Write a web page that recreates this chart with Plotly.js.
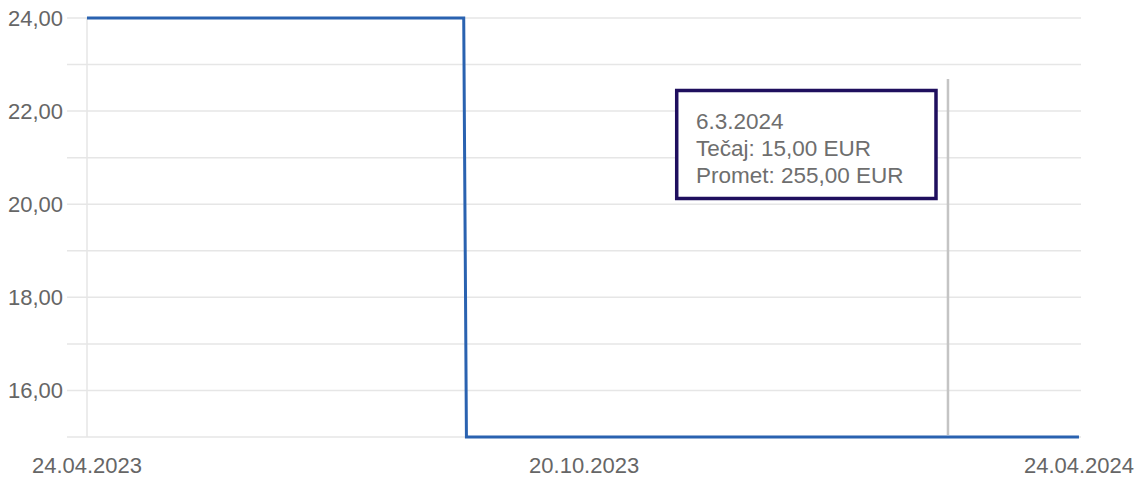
<!DOCTYPE html>
<html>
<head>
<meta charset="utf-8">
<script src="https://cdn.plot.ly/plotly-3.0.1.min.js"></script>
<style>html,body{margin:0;padding:0;background:#fff;}#chart{width:1142px;height:481px;}</style>
</head>
<body>
<div id="chart"></div>
<script>
// Data
var dates = ['2023-04-24', '2023-09-10', '2023-09-11', '2024-03-06', '2024-04-24'];
var prices = [24, 24, 15, 15, 15];
var yTickVals = [16, 18, 20, 22, 24];
var yTickText = ['16,00', '18,00', '20,00', '22,00', '24,00'];
var xTickVals = ['2023-04-24', '2023-10-24 10:00', '2024-04-24'];
var xTickText = ['24.04.2023', '20.10.2023', '24.04.2024'];
var hoverDate = '2024-03-06 16:00';
var tooltipLines = ['6.3.2024', 'Tečaj: 15,00 EUR', 'Promet: 255,00 EUR'];

var trace = {
  x: dates, y: prices, type: 'scatter', mode: 'lines',
  line: {color: '#2a62b0', width: 3, shape: 'linear'},
  hoverinfo: 'skip'
};

var layout = {
  width: 1142, height: 481,
  margin: {l: 67, r: 61, t: 15, b: 42},
  paper_bgcolor: '#fff', plot_bgcolor: '#fff',
  showlegend: false,
  font: {family: 'Liberation Sans, Arial, sans-serif', color: '#666', size: 22},
  xaxis: {
    type: 'date',
    range: ['2023-04-16 15:00', '2024-04-24 18:00'],
    tickvals: xTickVals, ticktext: xTickText,
    showgrid: false, zeroline: false, showline: false, ticks: '',
    tickfont: {size: 22, color: '#666'},
    ticklabelstandoff: 11
  },
  yaxis: {
    range: [14.957, 24.0644],
    tickvals: yTickVals, ticktext: yTickText,
    showgrid: false, zeroline: false, showline: false, ticks: '',
    tickfont: {size: 22, color: '#666'},
    ticklabelstandoff: 3
  },
  shapes: [],
  annotations: []
};

// horizontal gridlines every 1 unit
for (var v = 15; v <= 24; v++) {
  layout.shapes.push({type: 'line', xref: 'paper', yref: 'y', x0: 0, x1: 1, y0: v, y1: v,
    line: {color: '#e6e6e6', width: 1.5}, layer: 'below'});
}
// first-date vertical guide
layout.shapes.push({type: 'line', xref: 'x', yref: 'y', x0: dates[0], x1: dates[0], y0: 15, y1: 24,
  line: {color: '#e6e6e6', width: 1.5}, layer: 'below'});
// hover crosshair
layout.shapes.push({type: 'line', xref: 'x', yref: 'paper', x0: hoverDate, x1: hoverDate, y0: 0.0094, y1: 0.8491,
  line: {color: '#c4c4c4', width: 2.5}, layer: 'below'});
// tooltip box
layout.shapes.push({type: 'rect', xref: 'paper', yref: 'paper', x0: 0.6013, x1: 0.8570, y0: 0.5672, y1: 0.8219,
  fillcolor: '#ffffff', line: {color: '#1f0f5e', width: 3.5}, layer: 'above'});
var lineY = [0.750, 0.6863, 0.6203];
tooltipLines.forEach(function (t, i) {
  layout.annotations.push({
    xref: 'paper', yref: 'paper', x: 0.6183, y: lineY[i], xanchor: 'left', yanchor: 'middle',
    text: t, align: 'left', showarrow: false,
    font: {size: 22.5, color: '#6e6e6e', family: 'Liberation Sans, Arial, sans-serif'}
  });
});

Plotly.newPlot('chart', [trace], layout, {displayModeBar: false, staticPlot: true});
</script>
</body>
</html>
